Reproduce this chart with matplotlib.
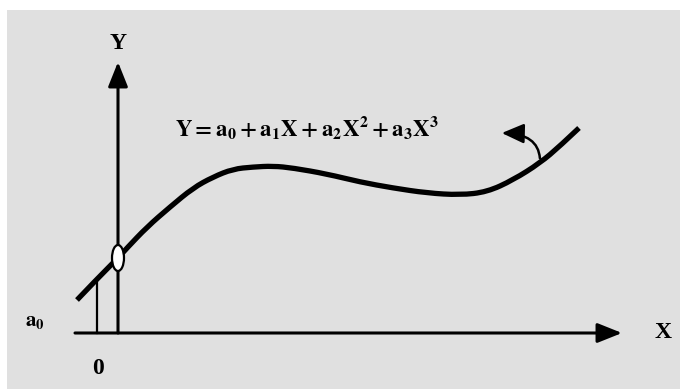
import matplotlib
matplotlib.use('Agg')
import matplotlib.pyplot as plt
from matplotlib.path import Path
from matplotlib.patches import Ellipse, Rectangle, FancyArrowPatch, PathPatch

plt.rcParams['mathtext.fontset'] = 'stix'

# hand-traced cubic-like curve, origin at the axis crossing
curve_x = [-41, -21, 0, 9, 29, 52, 75, 95, 115, 135, 155, 175,
           209, 242, 275, 309, 342, 369, 395, 422, 442, 461]
curve_y = [33, 54, 75, 85, 106, 126, 145, 156, 164, 166, 167, 165,
           159, 151, 145, 140, 138, 141, 153, 170, 187, 205]

a0_height = 75          # intercept of the curve on the Y axis
x_axis_end = 504
y_axis_end = 271
equation = r'$\mathbf{Y = a_0 + a_1X + a_2X^2 + a_3X^3}$'

fig = plt.figure(figsize=(6.8, 3.89), dpi=100)
fig.patch.set_facecolor('white')
fig.patches.append(Rectangle((7 / 680, 0), 1, 379 / 389, transform=fig.transFigure,
                             facecolor='#e0e0e0', edgecolor='none', zorder=-10))

ax = fig.add_axes([0, 0, 1, 1])
ax.set_xlim(-118, 562)
ax.set_ylim(-56, 333)
ax.axis('off')
ax.patch.set_alpha(0)

# axes with arrow heads
arrow = dict(arrowstyle='-|>,head_length=0.75,head_width=0.3', mutation_scale=20,
             color='black', lw=2.2, shrinkA=0, shrinkB=0)
ax.annotate('', xy=(x_axis_end, 0), xytext=(-43, 0), arrowprops=arrow)
ax.annotate('', xy=(0, y_axis_end), xytext=(0, 0), arrowprops=arrow)

# the polynomial curve, smoothed as a quadratic spline through the traced points
pts = list(zip(curve_x, curve_y))
verts = [pts[0]]
codes = [Path.MOVETO]
for i in range(1, len(pts) - 1):
    nxt = pts[i + 1] if i == len(pts) - 2 else ((pts[i][0] + pts[i + 1][0]) / 2,
                                                 (pts[i][1] + pts[i + 1][1]) / 2)
    verts += [pts[i], nxt]
    codes += [Path.CURVE3, Path.CURVE3]
ax.add_patch(PathPatch(Path(verts, codes), facecolor='none', edgecolor='black',
                       lw=3.8, capstyle='butt', zorder=3))

# guide from the curve down to the X axis
ax.plot([curve_x[1], curve_x[1]], [0, curve_y[1]], color='black', lw=1.6, zorder=2)

# circle marking a0 on the Y axis
ax.add_patch(Ellipse((0, a0_height), 12, 26, facecolor='white', edgecolor='black',
                     lw=1.6, zorder=4))

# curled pointer from the curve to the equation
ax.add_patch(FancyArrowPatch((422, 172), (381, 200),
                             connectionstyle='angle3,angleA=90,angleB=0',
                             arrowstyle='-|>,head_length=0.9,head_width=0.4',
                             mutation_scale=15, color='black', lw=1.8, zorder=3))

font = dict(family='Liberation Serif', weight='bold', fontsize=17)
ax.text(57, 196, equation, fontsize=16.5, ha='left', va='baseline')
ax.text(0, 290, 'Y', ha='center', va='center', **font)
ax.text(545, 0, 'X', ha='center', va='center', **font)
ax.text(-20, -35, '0', ha='center', va='center', **font)
ax.text(-83, 12, r'$\mathbf{a_0}$', ha='center', va='center', fontsize=15)

fig.savefig('out.png', dpi=100)
